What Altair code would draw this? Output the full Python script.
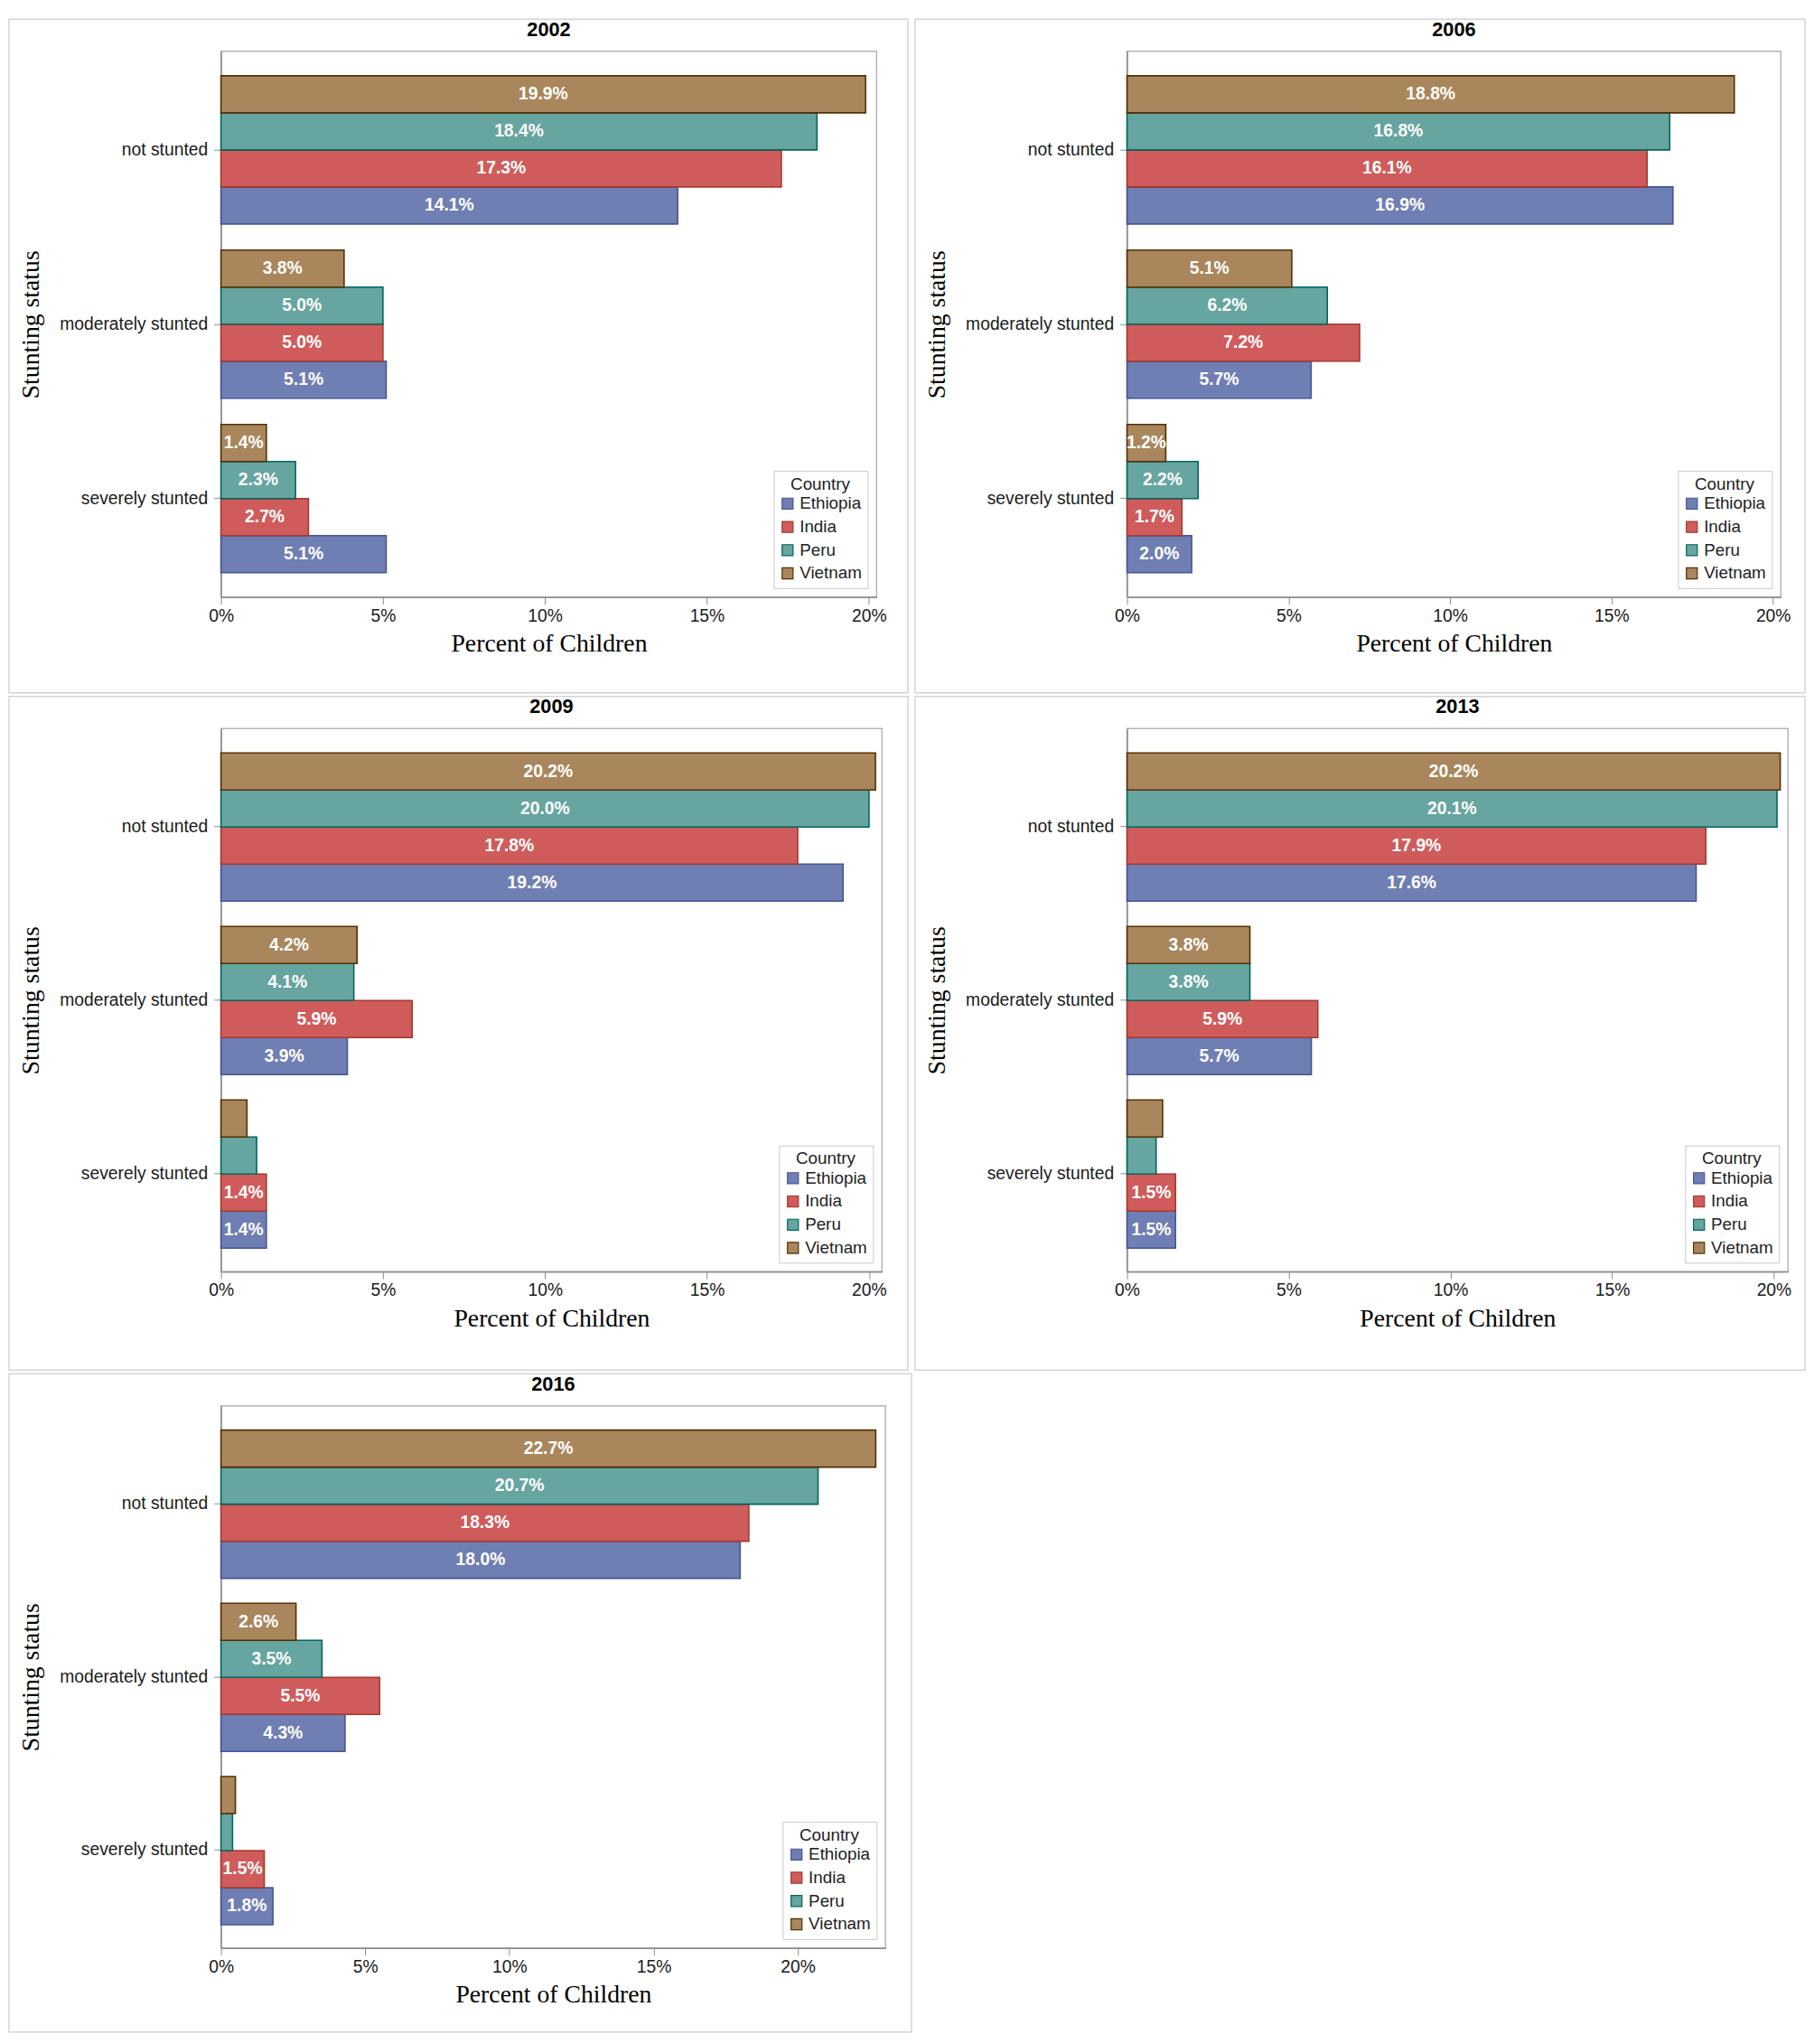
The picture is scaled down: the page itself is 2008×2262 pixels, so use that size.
import altair as alt
import pandas as pd

years = ["2002", "2006", "2009", "2013", "2016"]
statuses = ["not stunted", "moderately stunted", "severely stunted"]
countries = ["Ethiopia", "India", "Peru", "Vietnam"]
bar_order = ["Vietnam", "Peru", "India", "Ethiopia"]  # top to bottom in each group

# values per year: [not stunted, moderately stunted, severely stunted]
ethiopia = {"2002": [14.1, 5.1, 5.1], "2006": [16.9, 5.7, 2.0], "2009": [19.2, 3.9, 1.4],
            "2013": [17.6, 5.7, 1.5], "2016": [18.0, 4.3, 1.8]}
india = {"2002": [17.3, 5.0, 2.7], "2006": [16.1, 7.2, 1.7], "2009": [17.8, 5.9, 1.4],
         "2013": [17.9, 5.9, 1.5], "2016": [18.3, 5.5, 1.5]}
peru = {"2002": [18.4, 5.0, 2.3], "2006": [16.8, 6.2, 2.2], "2009": [20.0, 4.1, 1.1],
        "2013": [20.1, 3.8, 0.9], "2016": [20.7, 3.5, 0.4]}
vietnam = {"2002": [19.9, 3.8, 1.4], "2006": [18.8, 5.1, 1.2], "2009": [20.2, 4.2, 0.8],
           "2013": [20.2, 3.8, 1.1], "2016": [22.7, 2.6, 0.5]}

x_ticks = [0, 5, 10, 15, 20]
x_max = {"2002": 20.24, "2006": 20.24, "2009": 20.4, "2013": 20.44, "2016": 23.04}
plot_w = {"2002": 733, "2006": 731, "2009": 739, "2013": 739, "2016": 743}
plot_h = {"2002": 610, "2006": 610, "2009": 607, "2013": 607, "2016": 606}
panel_right = {"2002": 768, "2006": 758, "2009": 768, "2013": 758, "2016": 772}
panel_bottom = {"2002": 717, "2006": 717, "2009": 717, "2013": 717, "2016": 700}

fill_colors = ["#6F7EB3", "#D05B5B", "#66A5A0", "#A9865B"]
stroke_colors = ["#445694", "#A23A2E", "#01665E", "#543005"]

series = {"Ethiopia": ethiopia, "India": india, "Peru": peru, "Vietnam": vietnam}

SANS = "Liberation Sans"
SERIF = "Liberation Serif"


def panel(year):
    rows = []
    for c in countries:
        for s, v in zip(statuses, series[c][year]):
            rows.append({"country": c, "status": s, "value": v})
    df = pd.DataFrame(rows)
    w, h = plot_w[year], plot_h[year]

    x_axis = alt.Axis(values=x_ticks, labelExpr="datum.value + '%'", title="Percent of Children",
                      grid=False, tickSize=8, labelPadding=4, titlePadding=8, labelFlush=False)
    x_scale = alt.Scale(domain=[0, x_max[year]], nice=False, zero=True)
    y_enc = alt.Y("status:N", sort=statuses,
                  scale=alt.Scale(paddingInner=0.15, paddingOuter=0.14),
                  axis=alt.Axis(title="Stunting status", tickSize=8, labelPadding=7, titlePadding=17))
    yoff = alt.YOffset("country:N", sort=bar_order, scale=alt.Scale(paddingInner=0, paddingOuter=0))

    frame = alt.Chart(alt.Data(values=[{"k": 1}])).mark_rect(
        fillOpacity=0, stroke="#d4d4d4", strokeWidth=1.5
    ).encode(x=alt.value(-237), x2=alt.value(panel_right[year]),
             y=alt.value(-36), y2=alt.value(panel_bottom[year]))

    title = alt.Chart(alt.Data(values=[{"t": year}])).mark_text(
        fontSize=22, fontWeight="bold", font=SANS, color="#000000", align="center", baseline="middle"
    ).encode(text="t:N", x=alt.value(w / 2), y=alt.value(-24))

    bars = alt.Chart(df).mark_bar(strokeWidth=1.6).encode(
        x=alt.X("value:Q", scale=x_scale, axis=x_axis),
        y=y_enc,
        yOffset=yoff,
        fill=alt.Fill("country:N", scale=alt.Scale(domain=countries, range=fill_colors),
                      legend=alt.Legend(title="Country")),
        stroke=alt.Stroke("country:N", scale=alt.Scale(domain=countries, range=stroke_colors),
                          legend=alt.Legend(title="Country")),
    )

    labels = alt.Chart(df).transform_filter(
        "datum.value >= 1.15"
    ).transform_calculate(
        mid="datum.value / 2", label="format(datum.value, '.1f') + '%'"
    ).mark_text(
        color="white", fontWeight="bold", fontSize=19.5, font=SANS, baseline="middle", align="center"
    ).encode(
        x=alt.X("mid:Q", scale=x_scale, axis=x_axis),
        y=y_enc,
        yOffset=yoff,
        text="label:N",
    )

    return alt.layer(frame, title, bars, labels).properties(width=w, height=h)


chart = alt.concat(*[panel(y) for y in years], columns=2, spacing=0, align="each").resolve_scale(
    x="independent", fill="independent", stroke="independent"
).resolve_legend(fill="independent", stroke="independent").configure(
    padding=0, background="white"
).configure_view(
    stroke="#b4b4b4", strokeWidth=1.5
).configure_axis(
    labelFont=SANS, labelFontSize=19.5, labelColor="#1a1a1a",
    titleFont=SERIF, titleFontSize=28, titleFontWeight="normal", titleColor="#000000",
    domainColor="#8c8c8c", tickColor="#8c8c8c", domainWidth=1.5,
).configure_legend(
    orient="bottom-right", offset=10, fillColor="white", strokeColor="#c8c8c8", padding=6,
    titleFont=SANS, titleFontSize=19, titleFontWeight="normal", titleAnchor="middle", titleColor="#222222",
    labelFont=SANS, labelFontSize=19, labelColor="#222222", symbolType="square", symbolSize=150,
    symbolStrokeWidth=1.2, rowPadding=6, titlePadding=2,
)

chart.save("out.html", embed_options={"renderer": "svg", "actions": False})
